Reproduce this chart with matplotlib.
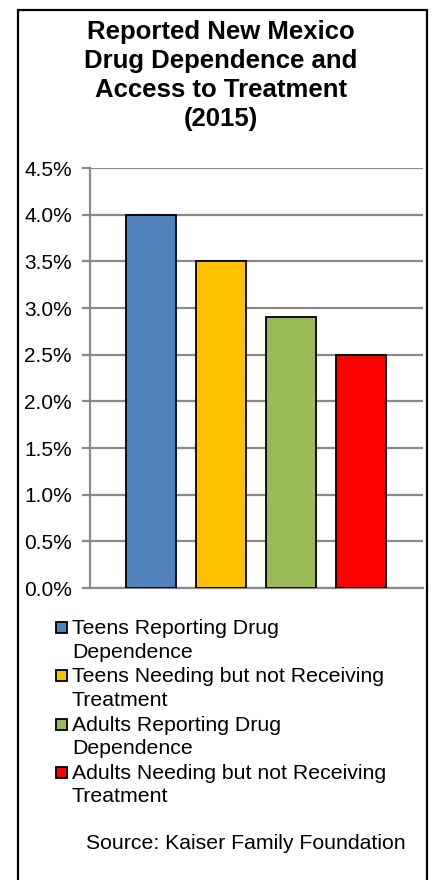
import matplotlib
matplotlib.use("Agg")
import matplotlib.pyplot as plt
from matplotlib.patches import Rectangle
from matplotlib.ticker import FuncFormatter, MultipleLocator

plt.rcParams['font.family'] = ['Liberation Sans', 'DejaVu Sans']

title = "Reported New Mexico\nDrug Dependence and\nAccess to Treatment\n(2015)"
labels = ["Teens Reporting Drug\nDependence",
          "Teens Needing but not Receiving\nTreatment",
          "Adults Reporting Drug\nDependence",
          "Adults Needing but not Receiving\nTreatment"]
values = [4.0, 3.5, 2.9, 2.5]
colors = ["#4F81BD", "#FFC000", "#9BBB59", "#FF0000"]
source = "Source: Kaiser Family Foundation"

W, H = 433, 880
fig = plt.figure(figsize=(W / 100, H / 100), dpi=100)

def fx(px):
    return px / W

def fy(py):
    return 1 - py / H

ax = fig.add_axes([fx(90), fy(588), fx(423) - fx(90), fy(168) - fy(588)])
x = list(range(len(values)))
bw = 50 / 70
ax.bar(x, values, width=bw, color=colors, edgecolor="black", linewidth=1.3, zorder=3)
ax.set_xlim(-bw / 2 - 36 / 70, len(values) - 1 + bw / 2 + 37 / 70)
ax.set_ylim(0, 4.5)
ax.yaxis.set_major_locator(MultipleLocator(0.5))
ax.yaxis.set_major_formatter(FuncFormatter(lambda v, p: f"{v:.1f}%"))
ax.grid(axis="y", color="#898989", linewidth=1.6, zorder=0)
ax.set_xticks([])
for s in ["top", "right"]:
    ax.spines[s].set_visible(False)
for s in ["left", "bottom"]:
    ax.spines[s].set_color("#898989")
    ax.spines[s].set_linewidth(1.6)
ax.tick_params(axis="y", direction="out", length=6, width=1.6, color="#898989",
               labelsize=15, pad=7, labelcolor="black")

fig.text(fx(221), fy(19.5), title, ha="center", va="top", fontsize=18.5,
         fontweight="bold", linespacing=1.27)

lh = 48.3
for i, (lab, c) in enumerate(zip(labels, colors)):
    yc = 627 + i * lh
    fig.text(fx(72), fy(yc - 8), lab, ha="left", va="top", fontsize=15.3,
             linespacing=1.3)
    fig.patches.append(Rectangle((fx(55.5), fy(yc + 6)), fx(11), 11 / H,
                                 transform=fig.transFigure, facecolor=c,
                                 edgecolor="black", linewidth=1.3))

fig.text(fx(246), fy(843), source, ha="center", va="center", fontsize=15.3)

fig.patches.append(Rectangle((fx(18), -0.02), fx(427) - fx(18), fy(10) + 0.02,
                             transform=fig.transFigure, facecolor="none",
                             edgecolor="black", linewidth=1.6, clip_on=False))

fig.savefig("out.png", dpi=100)
